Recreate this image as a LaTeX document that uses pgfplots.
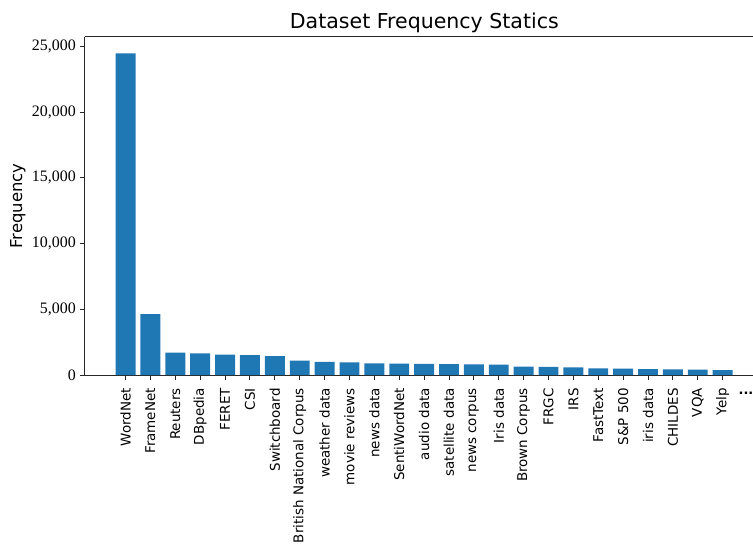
\documentclass[border=0pt]{standalone}
\usepackage{pgfplots}
\pgfplotsset{compat=1.18}
\usepackage{fontspec}
\setmainfont{DejaVu Sans}
\newfontfamily\tnr{Liberation Serif}
\definecolor{C0}{HTML}{1F77B4}
\begin{document}
\begin{tikzpicture}
\begin{axis}[
  scale only axis, width=668bp, height=338bp,
  xmin=-1.63, xmax=25.22, ymin=0, ymax=25723,
  axis x line*=box, axis y line*=left,
  axis line style={line width=1bp, color=black!85},
  tick style={line width=0.9bp, color=black!85},
  tick align=outside, major tick length=5bp,
  xtick pos=bottom, ytick pos=left,
  xtick={0,...,24},
  xticklabels={WordNet,FrameNet,Reuters,DBpedia,FERET,CSI,Switchboard,British National Corpus,weather data,movie reviews,news data,SentiWordNet,audio data,satellite data,news corpus,Iris data,Brown Corpus,FRGC,IRS,FastText,S\&P 500,iris data,CHILDES,VQA,Yelp},
  xticklabel style={rotate=90, anchor=east, font=\fontsize{13.5}{15}\selectfont, inner sep=0bp, xshift=-8bp},
  ytick={0,5000,10000,15000,20000,25000},
  /pgf/number format/assume math mode=true,
  /pgf/number format/1000 sep={,},
  yticklabel style={font=\tnr\fontsize{16}{18}\selectfont, inner sep=0bp, xshift=-4bp},
  scaled y ticks=false,
  ylabel={Frequency},
  ylabel style={font=\fontsize{16.5}{18}\selectfont, yshift=3bp},
  title={Dataset Frequency Statics},
  title style={font=\fontsize{20.6}{22}\selectfont, at={(rel axis cs:0.508,1)}, anchor=south, yshift=-5bp},
  clip=false,
]
\addplot[ybar, bar width=0.8, fill=C0, draw=none] coordinates {
(0,24480) (1,4640) (2,1700) (3,1645) (4,1545) (5,1520) (6,1445) (7,1090)
(8,990) (9,960) (10,885) (11,860) (12,840) (13,835) (14,805) (15,785)
(16,630) (17,610) (18,585) (19,505) (20,480) (21,455) (22,430) (23,405) (24,380)
};
\node[anchor=north, font=\fontsize{13}{15}\selectfont\bfseries, inner sep=0bp, yshift=-17bp, xshift=-1.5bp] at (axis cs:25,0) {...};
\end{axis}
\pgfresetboundingbox
\path[use as bounding box] ([xshift=-85bp,yshift=-170bp]current axis.south west) rectangle ([yshift=37bp]current axis.north east);
\end{tikzpicture}
\end{document}
